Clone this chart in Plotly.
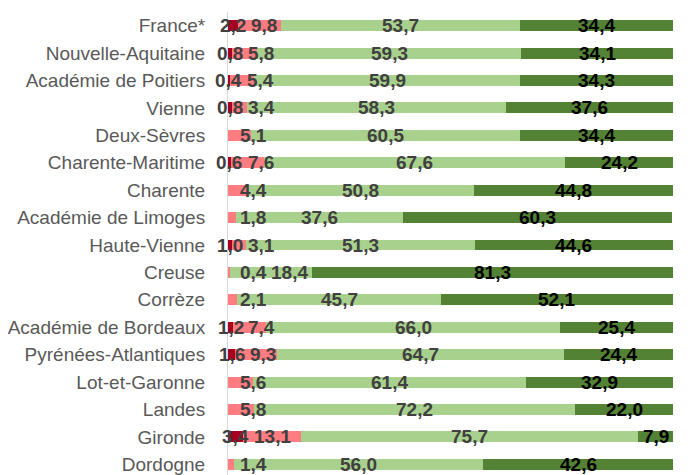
import plotly.graph_objects as go

categories = ["France*", "Nouvelle-Aquitaine", "Académie de Poitiers", "Vienne", "Deux-Sèvres",
              "Charente-Maritime", "Charente", "Académie de Limoges", "Haute-Vienne", "Creuse",
              "Corrèze", "Académie de Bordeaux", "Pyrénées-Atlantiques", "Lot-et-Garonne",
              "Landes", "Gironde", "Dordogne"]
s_darkred = [2.2, 0.8, 0.4, 0.8, 0.0, 0.6, 0.0, 0.0, 1.0, 0.0, 0.0, 1.2, 1.6, 0.0, 0.0, 3.4, 0.0]
s_pink = [9.8, 5.8, 5.4, 3.4, 5.1, 7.6, 4.4, 1.8, 3.1, 0.4, 2.1, 7.4, 9.3, 5.6, 5.8, 13.1, 1.4]
s_lightgreen = [53.7, 59.3, 59.9, 58.3, 60.5, 67.6, 50.8, 37.6, 51.3, 18.4, 45.7, 66.0, 64.7, 61.4, 72.2, 75.7, 56.0]
s_darkgreen = [34.4, 34.1, 34.3, 37.6, 34.4, 24.2, 44.8, 60.3, 44.6, 81.3, 52.1, 25.4, 24.4, 32.9, 22.0, 7.9, 42.6]

series = [
    ("s1", s_darkred, "#A50021", "#404040"),
    ("s2", s_pink, "#FF7C80", "#404040"),
    ("s3", s_lightgreen, "#A9D18E", "#404040"),
    ("s4", s_darkgreen, "#548235", "#000000"),
]

FONT = "Liberation Sans, Arial, sans-serif"
LABEL_SIZE = 19
PX_PER_UNIT = 447 / 100.0  # plot width / x range


def fmt(v):
    return f"{v:.1f}".replace(".", ",")


def half_width(txt):
    w = 0
    for ch in txt:
        w += 0.278 if ch == "," else 0.556
    return w * LABEL_SIZE / 2 / PX_PER_UNIT  # in data units


fig = go.Figure()
for name, vals, color, _ in series:
    fig.add_trace(go.Bar(
        y=categories, x=vals, orientation="h", name=name,
        marker=dict(color=color, line=dict(width=0)),
        hoverinfo="skip",
    ))

GAP = 5 / PX_PER_UNIT
annotations = []
for i, cat in enumerate(categories):
    base = 0.0
    prev_right = 12 / PX_PER_UNIT - GAP
    for k, (name, vals, color, tcolor) in enumerate(series):
        v = vals[i]
        mid = base + v / 2
        base += v
        if v <= 0:
            continue
        txt = fmt(v)
        hw = half_width(txt)
        if k == 0 or k == 3:
            x = mid
        else:
            x = max(mid, prev_right + GAP + hw)
        prev_right = max(prev_right, x + hw)
        annotations.append(dict(
            x=x, y=cat, xref="x", yref="y", text=f"<b>{txt}</b>", showarrow=False,
            xanchor="center", yanchor="middle",
            font=dict(family=FONT, size=LABEL_SIZE, color=tcolor),
        ))

# the page body has an 8px margin; compensate so the chart fills the 698x475 window
fig.update_layout(
    barmode="stack",
    bargap=0.6,
    width=690, height=467,
    margin=dict(l=218, r=25, t=4, b=0),
    paper_bgcolor="white", plot_bgcolor="white",
    showlegend=False,
    annotations=annotations,
    xaxis=dict(range=[0, 100], showgrid=False, zeroline=False, showticklabels=False,
               showline=False, fixedrange=True),
    yaxis=dict(categoryorder="array", categoryarray=categories, range=[16.39, -0.5],
               showgrid=False, zeroline=False, showline=True, linecolor="#D9D9D9",
               linewidth=1, ticks="", ticklabelstandoff=18,
               tickfont=dict(family=FONT, size=19, color="#595959")),
)

fig.write_html("out.html")
